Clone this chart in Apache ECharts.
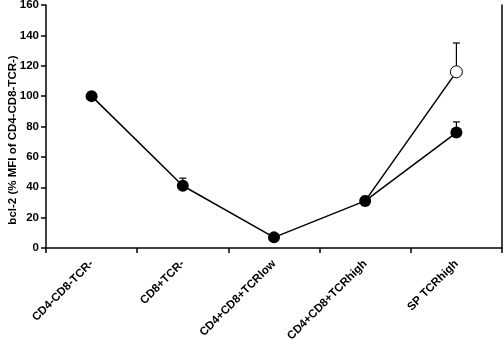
<!DOCTYPE html>
<html><head><meta charset="utf-8">
<script src="https://cdn.jsdelivr.net/npm/echarts@6/dist/echarts.min.js"></script>
<style>html,body{margin:0;padding:0;background:#fff}#c{width:504px;height:340px}</style>
</head><body><div id="c"></div>
<script>
var categories = ['CD4-CD8-TCR-', 'CD8+TCR-', 'CD4+CD8+TCRlow', 'CD4+CD8+TCRhigh', 'SP TCRhigh'];
var filledValues = [100, 41, 7, 31, 76];
var filledErrTop = [100, 46, 7, 34, 83];
var openValues = [null, null, null, 31, 116];
var openErrTop = [null, null, null, null, 135];
var yTicks = [0, 20, 40, 60, 80, 100, 120, 140, 160];

var errData = [];
filledErrTop.forEach(function(t, i){ if (t != null && t > filledValues[i]) errData.push([i, filledValues[i], t]); });
openErrTop.forEach(function(t, i){ if (t != null && t > openValues[i]) errData.push([i, openValues[i], t]); });

var chart = echarts.init(document.getElementById('c'));
var font = 'Liberation Sans, Arial, sans-serif';
chart.setOption({
  animation: false,
  grid: {left: 46, right: 2, top: 5, bottom: 92, containLabel: false, outerBoundsMode: 'none'},
  xAxis: {
    type: 'category', data: categories, boundaryGap: true,
    axisLine: {lineStyle: {color: '#000', width: 1.5}},
    axisTick: {show: true, length: 5, lineStyle: {color: '#000', width: 1.5}, alignWithLabel: false},
    axisLabel: {rotate: 45, color: '#000', fontWeight: 'bold', fontSize: 11.5, fontFamily: font, margin: 14, interval: 0}
  },
  yAxis: [{
    type: 'value', min: 0, max: 160, interval: 20,
    axisLine: {show: true, lineStyle: {color: '#000', width: 1.5}},
    axisTick: {show: true, length: 5, lineStyle: {color: '#000', width: 1.5}},
    axisLabel: {color: '#000', fontWeight: 'bold', fontSize: 11.5, fontFamily: font, margin: 7},
    splitLine: {show: false}
  }, {
    type: 'value', min: 0, max: 160, interval: 20, position: 'right',
    axisLine: {show: true, lineStyle: {color: '#000', width: 1.5}},
    axisTick: {show: false}, axisLabel: {show: false}, splitLine: {show: false}
  }],
  graphic: [{
    type: 'text', rotation: Math.PI / 2, x: 13, y: 140,
    style: {text: 'bcl-2 (% MFI of CD4-CD8-TCR-)', fill: '#000', font: 'bold 11.5px ' + font,
            textAlign: 'center', textVerticalAlign: 'middle'}
  }],
  series: [
    {
      type: 'custom', data: errData, z: 1,
      renderItem: function(params, api){
        var x = api.value(0);
        var p0 = api.coord([x, api.value(1)]);
        var p1 = api.coord([x, api.value(2)]);
        return {type: 'group', children: [
          {type: 'line', shape: {x1: p0[0], y1: p0[1], x2: p1[0], y2: p1[1]}, style: {stroke: '#000', lineWidth: 1.2}},
          {type: 'line', shape: {x1: p1[0]-3.5, y1: p1[1], x2: p1[0]+3.5, y2: p1[1]}, style: {stroke: '#000', lineWidth: 1.2}}
        ]};
      }
    },
    {
      type: 'line', data: openValues, z: 2, connectNulls: false,
      symbol: function(v, p){ return p.dataIndex === 4 ? 'circle' : 'none'; },
      symbolSize: 12,
      lineStyle: {color: '#000', width: 1.5},
      itemStyle: {color: '#fff', borderColor: '#000', borderWidth: 1},
      showAllSymbol: true
    },
    {
      type: 'line', data: filledValues, z: 3,
      symbol: 'circle', symbolSize: 12,
      lineStyle: {color: '#000', width: 1.5},
      itemStyle: {color: '#000', borderColor: '#000', borderWidth: 0}
    }
  ]
});
</script></body></html>
